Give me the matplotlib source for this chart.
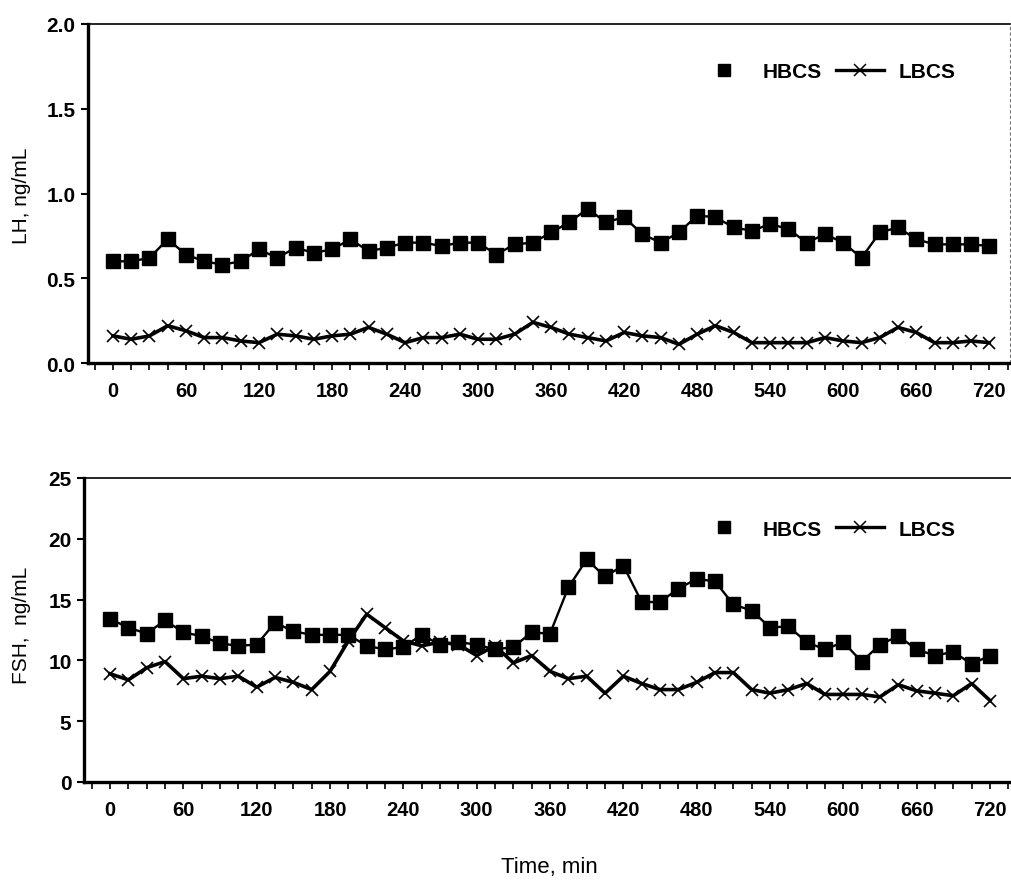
import numpy as np
import matplotlib
matplotlib.use("Agg")
import matplotlib.pyplot as plt
from matplotlib.lines import Line2D
from matplotlib.ticker import MultipleLocator

plt.rcParams['font.family'] = ['Liberation Sans', 'DejaVu Sans']

# sampling times, every 15 min over 12 h
time_min = list(range(0, 721, 15))

lh_hbcs = [0.60, 0.60, 0.62, 0.73, 0.64, 0.60, 0.58, 0.60, 0.67, 0.62,
           0.68, 0.65, 0.67, 0.73, 0.66, 0.68, 0.71, 0.71, 0.69, 0.71,
           0.71, 0.64, 0.70, 0.71, 0.77, 0.83, 0.91, 0.83, 0.86, 0.76,
           0.71, 0.77, 0.87, 0.86, 0.80, 0.78, 0.82, 0.79, 0.71, 0.76,
           0.71, 0.62, 0.77, 0.80, 0.73, 0.70, 0.70, 0.70, 0.69]
lh_lbcs = [0.16, 0.14, 0.16, 0.22, 0.19, 0.15, 0.15, 0.13, 0.12, 0.17,
           0.16, 0.14, 0.16, 0.17, 0.21, 0.17, 0.12, 0.15, 0.15, 0.17,
           0.14, 0.14, 0.17, 0.24, 0.21, 0.17, 0.15, 0.13, 0.18, 0.16,
           0.15, 0.11, 0.17, 0.22, 0.18, 0.12, 0.12, 0.12, 0.12, 0.15,
           0.13, 0.12, 0.15, 0.21, 0.18, 0.12, 0.12, 0.13, 0.12]

fsh_hbcs = [13.4, 12.7, 12.2, 13.3, 12.3, 12.0, 11.4, 11.2, 11.3, 13.1,
            12.4, 12.1, 12.1, 12.1, 11.2, 10.9, 11.1, 12.1, 11.3, 11.5,
            11.3, 10.9, 11.1, 12.3, 12.2, 16.0, 18.3, 16.9, 17.8, 14.8,
            14.8, 15.9, 16.7, 16.5, 14.6, 14.1, 12.7, 12.8, 11.5, 10.9,
            11.5, 9.9, 11.3, 12.0, 10.9, 10.4, 10.7, 9.7, 10.4]
fsh_lbcs = [8.9, 8.4, 9.4, 9.9, 8.5, 8.7, 8.5, 8.7, 7.8, 8.6,
            8.2, 7.6, 9.1, 11.6, 13.8, 12.7, 11.6, 11.2, 11.5, 11.3,
            10.4, 11.2, 9.8, 10.4, 9.1, 8.5, 8.7, 7.3, 8.7, 8.1,
            7.6, 7.6, 8.2, 9.0, 9.0, 7.6, 7.3, 7.6, 8.1, 7.2,
            7.2, 7.2, 7.0, 8.0, 7.5, 7.3, 7.1, 8.1, 6.7]

x_ticks = list(range(0, 721, 60))
lh_ticks = [0.0, 0.5, 1.0, 1.5, 2.0]
fsh_ticks = [0, 5, 10, 15, 20, 25]

W, H = 1012, 887
fig = plt.figure(figsize=(W / 100, H / 100), dpi=100)


def px_axes(left, top, right, bottom):
    return fig.add_axes([left / W, 1 - bottom / H, (right - left) / W, (bottom - top) / H])


ax1 = px_axes(88, 25, 1010, 364)
ax2 = px_axes(84, 479, 1012, 783)


def style(ax, hbcs, lbcs, xlim, ylim, yticks, yfmt):
    ax.plot(time_min, hbcs, color='black', lw=1.7,
            marker='s', ms=9.5, mfc='black', mec='black', zorder=3)
    ax.plot(time_min, lbcs, color='black', lw=2.6,
            marker='x', ms=8.5, mew=1.2, zorder=3)
    ax.set_xlim(*xlim)
    ax.set_ylim(*ylim)
    ax.set_xticks(x_ticks)
    ax.xaxis.set_minor_locator(MultipleLocator(15))
    ax.set_yticks(yticks)
    ax.set_yticklabels([yfmt.format(v) for v in yticks])
    ax.tick_params(axis='x', which='both', direction='out', length=5, width=1.2,
                   pad=8, labelsize=14.5)
    ax.tick_params(axis='y', direction='out', length=5, width=1.5, pad=4, labelsize=15)
    for lab in ax.get_xticklabels() + ax.get_yticklabels():
        lab.set_fontweight('bold')
    ax.spines['left'].set_linewidth(2.4)
    ax.spines['bottom'].set_linewidth(2.4)
    ax.spines['top'].set_linewidth(1.2)
    ax.spines['right'].set_visible(False)

    handles = [Line2D([], [], color='black', marker='s', ms=9, ls='none'),
               Line2D([], [], color='black', marker='x', ms=8, mew=1.1, lw=2.4)]
    return handles


h = style(ax1, lh_hbcs, lh_lbcs, (-20.5, 737), (0, 2.0), lh_ticks, '{:.1f}')
ax1.plot([1, 1], [0, 1], transform=ax1.transAxes, color='0.45', lw=0.8, ls=(0, (3, 2)),
         clip_on=False)
ax1.legend(h, ['HBCS', 'LBCS'], ncol=2, frameon=False, loc='center left',
           bbox_to_anchor=(612 / 922, (364 - 73) / 339), borderpad=0, borderaxespad=0,
           handlelength=2.3, handletextpad=0.7, columnspacing=0.7,
           prop={'weight': 'bold', 'size': 15})

h = style(ax2, fsh_hbcs, fsh_lbcs, (-21.3, 738), (0, 25), fsh_ticks, '{:d}')
ax2.legend(h, ['HBCS', 'LBCS'], ncol=2, frameon=False, loc='center left',
           bbox_to_anchor=(616 / 928, (783 - 530) / 304), borderpad=0, borderaxespad=0,
           handlelength=2.3, handletextpad=0.7, columnspacing=0.7,
           prop={'weight': 'bold', 'size': 15})

fig.text(22 / W, 1 - 196 / H, 'LH, ng/mL', rotation=90, ha='center', va='center', fontsize=15)
fig.text(22 / W, 1 - 625 / H, 'FSH,  ng/mL', rotation=90, ha='center', va='center', fontsize=15)
fig.text(549 / W, 1 - 868 / H, 'Time, min', ha='center', va='center', fontsize=16)

fig.savefig('out.png', dpi=100)
